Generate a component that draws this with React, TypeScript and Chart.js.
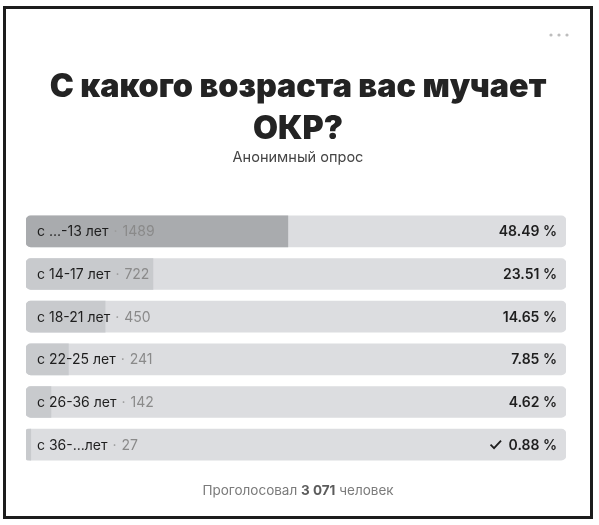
import React, { useEffect, useRef } from "react";
import { Chart, registerables } from "chart.js";

Chart.register(...registerables);

const TITLE_LINES = ["С какого возраста вас мучает", "ОКР?"];
const SUBTITLE = "Анонимный опрос";
const FOOTER_PREFIX = "Проголосовал ";
const FOOTER_COUNT = "3 071";
const FOOTER_SUFFIX = " человек";

const categories = ["с ...-13 лет", "с 14-17 лет", "с 18-21 лет", "с 22-25 лет", "с 26-36 лет", "с 36-...лет"];
const votes = [1489, 722, 450, 241, 142, 27];
const percents = [48.49, 23.51, 14.65, 7.85, 4.62, 0.88];
const percentLabels = ["48.49 %", "23.51 %", "14.65 %", "7.85 %", "4.62 %", "0.88 %"];
const trackValues = [100, 100, 100, 100, 100, 100];
const leaderIndex = 0;
const myVoteIndex = 5;

const W = 599;
const H = 525;

function fitFont(ctx: CanvasRenderingContext2D, text: string, base: string, size: number, target: number) {
  ctx.font = `${base} ${size}px Inter`;
  const w = ctx.measureText(text).width;
  const s = Math.min(size * 1.15, Math.max(size * 0.85, (size * target) / w));
  return `${base} ${s}px Inter`;
}

const overlayPlugin = {
  id: "pollOverlay",
  afterDatasetsDraw(chart: any) {
    const ctx = chart.ctx as CanvasRenderingContext2D;
    const cx = 298;
    ctx.save();
    // menu dots
    ctx.fillStyle = "#bdbdbd";
    [551, 559, 567].forEach((x) => {
      ctx.beginPath();
      ctx.arc(x, 35, 1.6, 0, Math.PI * 2);
      ctx.fill();
    });
    // title
    ctx.fillStyle = "#232323";
    ctx.textAlign = "center";
    ctx.textBaseline = "alphabetic";
    ctx.font = fitFont(ctx, TITLE_LINES[0], "900", 32, 497);
    ctx.fillText(TITLE_LINES[0], cx, 97);
    ctx.fillText(TITLE_LINES[1], cx, 139);
    ctx.font = fitFont(ctx, SUBTITLE, "400", 14, 131);
    ctx.fillStyle = "#444444";
    ctx.fillText(SUBTITLE, cx, 162);

    // row labels
    const trackMeta = chart.getDatasetMeta(1);
    trackMeta.data.forEach((el: any, i: number) => {
      const left = el.base;
      const right = el.x;
      const y = el.y + 5;
      ctx.textAlign = "left";
      ctx.font = "400 14px Inter";
      ctx.fillStyle = "#1e1e1e";
      const lx = left + 11;
      ctx.fillText(categories[i], lx, y);
      const w1 = ctx.measureText(categories[i]).width;
      ctx.fillStyle = "#9a9a9a";
      ctx.fillText("·", lx + w1 + 5, y);
      ctx.fillStyle = "#8a8a8a";
      ctx.fillText(String(votes[i]), lx + w1 + 14, y);
      ctx.textAlign = "right";
      ctx.font = "600 14px Inter";
      ctx.fillStyle = "#1e1e1e";
      const rx = right - 9;
      ctx.fillText(percentLabels[i], rx, y);
      if (i === myVoteIndex) {
        const pw = ctx.measureText(percentLabels[i]).width;
        const x0 = rx - pw - 18;
        const cy = el.y;
        ctx.strokeStyle = "#1e1e1e";
        ctx.lineWidth = 1.8;
        ctx.beginPath();
        ctx.moveTo(x0, cy);
        ctx.lineTo(x0 + 3.5, cy + 3.5);
        ctx.lineTo(x0 + 10.5, cy - 4);
        ctx.stroke();
      }
    });

    // footer
    ctx.textAlign = "left";
    const fs = 13.5;
    ctx.font = `400 ${fs}px Inter`;
    const wA = ctx.measureText(FOOTER_PREFIX).width;
    const wC = ctx.measureText(FOOTER_SUFFIX).width;
    ctx.font = `700 ${fs}px Inter`;
    const wB = ctx.measureText(FOOTER_COUNT).width;
    const total = wA + wB + wC;
    let fx = cx - total / 2;
    const fy = 495;
    ctx.font = `400 ${fs}px Inter`;
    ctx.fillStyle = "#7b7b7b";
    ctx.fillText(FOOTER_PREFIX, fx, fy);
    fx += wA;
    ctx.font = `700 ${fs}px Inter`;
    ctx.fillStyle = "#5c5c5c";
    ctx.fillText(FOOTER_COUNT, fx, fy);
    fx += wB;
    ctx.font = `400 ${fs}px Inter`;
    ctx.fillStyle = "#7b7b7b";
    ctx.fillText(FOOTER_SUFFIX, fx, fy);
    ctx.restore();
  },
};

export default function App() {
  const ref = useRef<HTMLCanvasElement | null>(null);
  useEffect(() => {
    if (!ref.current) return;
    const fills = percents.map((_, i) => (i === leaderIndex ? "#a9abae" : "#c8cacd"));
    const chart = new Chart(ref.current, {
      type: "bar",
      data: {
        labels: categories,
        datasets: [
          {
            data: percents,
            backgroundColor: fills,
            grouped: false,
            order: 0,
            barThickness: 31,
            borderSkipped: false,
            borderRadius: { topLeft: 5, bottomLeft: 5, topRight: 0, bottomRight: 0 },
          } as any,
          {
            data: trackValues,
            backgroundColor: "#dcdde0",
            grouped: false,
            order: 1,
            barThickness: 31,
            borderSkipped: false,
            borderRadius: 5,
          } as any,
        ],
      },
      options: {
        indexAxis: "y",
        animation: false,
        responsive: false,
        maintainAspectRatio: false,
        layout: { padding: { left: 26, right: 33, top: 210, bottom: 59 } },
        scales: {
          x: { type: "linear", min: 0, max: 100, display: false },
          y: { type: "category", display: false, offset: true },
        },
        plugins: {
          legend: { display: false },
          title: { display: false },
          tooltip: { enabled: false },
        },
        events: [],
      },
      plugins: [overlayPlugin],
    });
    return () => chart.destroy();
  }, []);
  return (
    <div style={{ position: "absolute", left: 0, top: 0, width: W, height: H, background: "#fff" }}>
      <div
        style={{
          position: "absolute",
          left: 3,
          top: 6,
          width: 590,
          height: 513,
          boxSizing: "border-box",
          border: "3px solid #1c1c1c",
          background: "#fff",
        }}
      />
      <canvas
        ref={ref}
        width={W}
        height={H}
        style={{ position: "absolute", left: 0, top: 0, width: W, height: H, display: "block" }}
      />
    </div>
  );
}
